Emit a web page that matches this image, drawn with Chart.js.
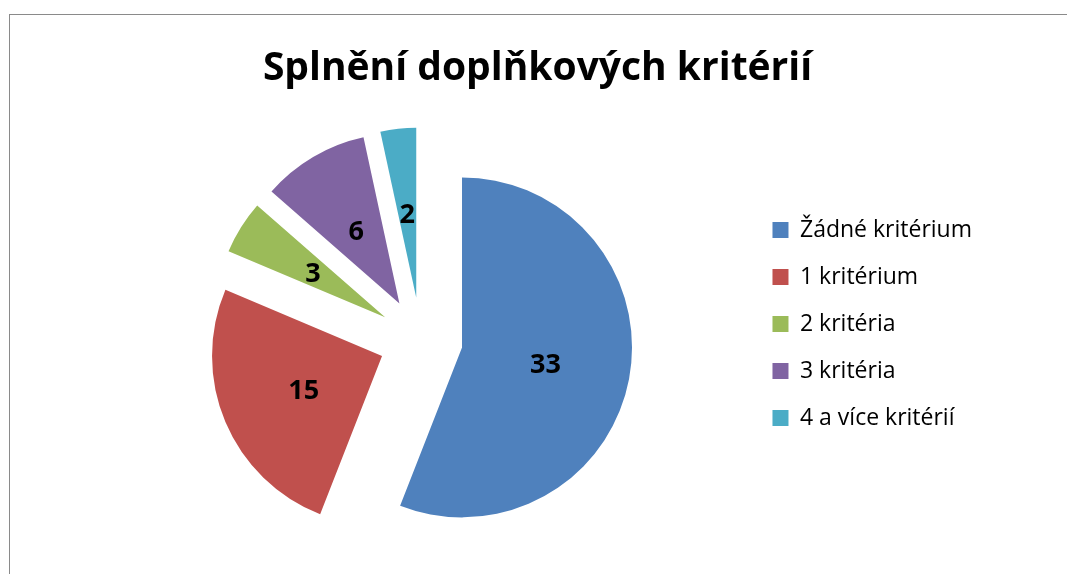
<!DOCTYPE html>
<html lang="cs">
<head>
  <meta charset="UTF-8" />
  <title>Splnění doplňkových kritérií</title>
  <script src="https://cdn.jsdelivr.net/npm/chart.js"></script>
  <style>
    html, body {
      margin: 0;
      padding: 0;
      background: #fff;
      overflow: hidden;
      width: 1067px;
      height: 574px;
    }

    .frame {
      position: absolute;
      left: 9px;
      top: 14px;
      width: 1074px;
      height: 580px;
      border: 1px solid #8a8a8a;
    }
  </style>
</head>
<body>
  <div class="frame">
    <canvas id="pieChart" width="1074" height="580"></canvas>
  </div>

  <script>
    const categories = ['Žádné kritérium', '1 kritérium', '2 kritéria', '3 kritéria', '4 a více kritérií'];
    const counts = [33, 15, 3, 6, 2];
    const sliceColors = ['#4F81BD', '#C0504D', '#9BBB59', '#8064A2', '#4BACC6'];

    const FONT = '"Open Sans", Lato, sans-serif';
    const EXPLODE = 42; // px every slice is pulled out from the centre

    // chart.js "offset" also grows the radius of some arcs, so pull the
    // slices out ourselves: draw each arc element moved along its mid angle
    const explodeSlices = {
      id: 'explodeSlices',
      beforeDatasetDraw(chart, args) {
        const ctx = chart.ctx;
        args.meta.data.forEach(arc => {
          const mid = (arc.startAngle + arc.endAngle) / 2;
          ctx.save();
          ctx.translate(Math.cos(mid) * EXPLODE, Math.sin(mid) * EXPLODE);
          arc.draw(ctx);
          ctx.restore();
        });
        return false;
      }
    };

    // value in each slice, about half way out
    const valueLabels = {
      id: 'valueLabels',
      afterDatasetsDraw(chart) {
        const ctx = chart.ctx;
        const meta = chart.getDatasetMeta(0);
        ctx.save();
        ctx.font = 'bold 27px ' + FONT;
        ctx.fillStyle = '#000';
        ctx.textAlign = 'center';
        ctx.textBaseline = 'alphabetic';
        meta.data.forEach((arc, i) => {
          const mid = (arc.startAngle + arc.endAngle) / 2;
          const dist = EXPLODE + arc.outerRadius * 0.5;
          ctx.fillText(String(counts[i]), arc.x + Math.cos(mid) * dist, arc.y + Math.sin(mid) * dist + 10);
        });
        ctx.restore();
      }
    };

    new Chart(document.getElementById('pieChart'), {
      type: 'pie',
      data: {
        labels: categories,
        datasets: [{
          data: counts,
          backgroundColor: sliceColors,
          borderWidth: 0,
          radius: 170
        }]
      },
      options: {
        responsive: false,
        animation: false,
        layout: {
          padding: { top: 38, left: 83, right: 102, bottom: 0 }
        },
        plugins: {
          title: {
            display: true,
            text: 'Splnění doplňkových kritérií',
            color: '#000',
            font: { family: FONT, size: 39, weight: 'bold', lineHeight: 0.8 },
            padding: 0
          },
          legend: {
            position: 'right',
            labels: {
              color: '#000',
              font: { family: FONT, size: 23 },
              boxWidth: 16,
              boxHeight: 16,
              padding: 24
            }
          },
          tooltip: { enabled: false }
        }
      },
      plugins: [explodeSlices, valueLabels]
    });
  </script>
</body>
</html>
